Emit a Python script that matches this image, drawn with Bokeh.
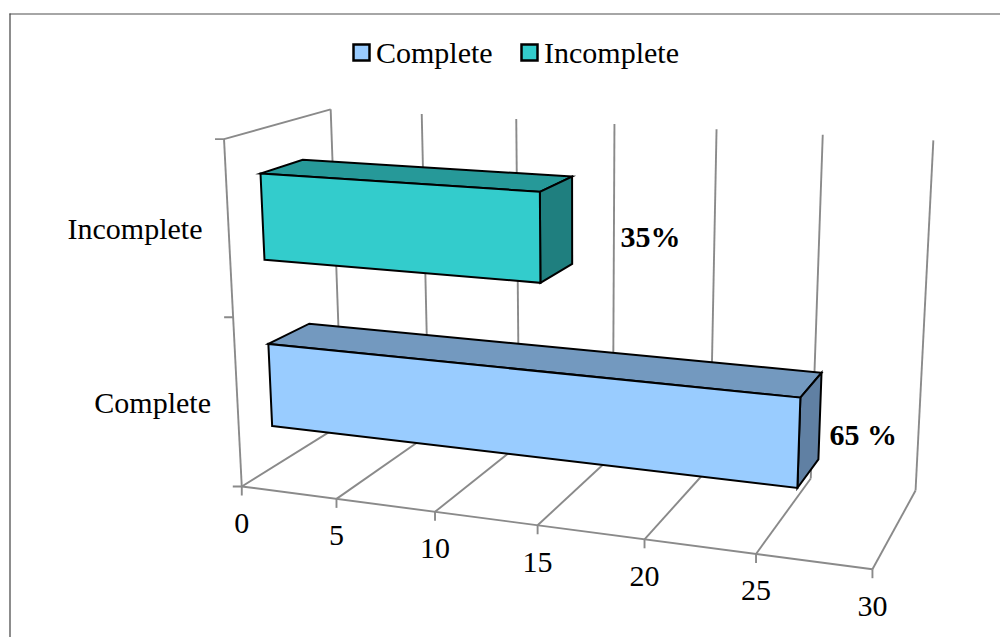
import numpy as np
from bokeh.core.properties import value
from bokeh.embed import file_html
from bokeh.models import Range1d
from bokeh.plotting import figure
from bokeh.resources import INLINE

# Chart content
categories = ["Complete", "Incomplete"]
counts = [26, 14]
percent_labels = ["65 %", "35%"]
x_ticks = [0, 5, 10, 15, 20, 25, 30]
front_colors = ["#99CCFF", "#33CCCC"]
top_colors = ["#7399BF", "#269999"]
side_colors = ["#6080A3", "#1F7F7F"]

X_MAX = 30
FONT = value("Liberation Serif")
TEXT_SIZE = "30px"
TEXT_LIFT = -10
GRID = "#8A8A8A"

# Box corners as (value, depth, height) seen on the page; they fix the 3D camera.
camera_refs = [
    ((0, 0, 0), (241.5, 486)), ((30, 0, 0), (872, 569)),
    ((0, 0, 1), (223, 139)), ((0, 1, 1), (331, 109)),
    ((30, 1, 1), (933, 140)), ((30, 1, 0), (915, 490)),
    ((0, 1, 0), (341, 424)), ((5, 0, 0), (336, 498)),
    ((10, 0, 0), (434.7, 511)), ((15, 0, 0), (537, 525)),
    ((20, 0, 0), (644, 539)), ((25, 0, 0), (755.7, 553)),
    ((5, 1, 1), (421, 113)), ((10, 1, 1), (515.7, 118)),
    ((15, 1, 1), (614, 124)), ((20, 1, 1), (716, 129)),
    ((25, 1, 1), (822, 134)),
]


def fit_camera(refs):
    rows = []
    for (x, d, z), (u, v) in refs:
        w = [x / X_MAX, d, z, 1.0]
        rows.append(w + [0, 0, 0, 0] + [-u * c for c in w])
        rows.append([0, 0, 0, 0] + w + [-v * c for c in w])
    return np.linalg.svd(np.array(rows))[2][-1].reshape(3, 4)


CAMERA = fit_camera(camera_refs)


def project(x, d, z):
    u, v, w = CAMERA @ np.array([x / X_MAX, d, z, 1.0])
    return u / w, v / w


p = figure(width=1000, height=637, output_backend="svg", toolbar_location=None,
           x_range=Range1d(0, 1000), y_range=Range1d(637, 0),
           x_axis_location=None, y_axis_location=None, min_border=0)
p.grid.visible = False
p.outline_line_color = None
p.background_fill_color = "white"
p.border_fill_color = "white"


def segment(a, b, color=GRID, width=1.9):
    p.line([a[0], b[0]], [a[1], b[1]], line_color=color, line_width=width)


def label(xs, ys, texts, align, style="normal"):
    p.text(xs, ys, text=texts, text_font=FONT, text_font_size=TEXT_SIZE, text_font_style=style,
           text_align=align, text_baseline="alphabetic", text_color="black", y_offset=TEXT_LIFT)


# Chart frame
segment((9, 13.5), (1000, 13.5), "#A6A6A6", 2)
segment((9.5, 13), (9.5, 637), "#404040", 1.2)

# Walls, floor and gridlines
for t in x_ticks:
    segment(project(t, 1, 0), project(t, 1, 1))
    segment(project(t, 0, 0), project(t, 1, 0))
    bx, by = project(t, 0, 0)
    segment((bx, by), (bx, by + 9))
    label([bx], [by + 47], [str(t)], "center")
segment(project(0, 0, 0), project(X_MAX, 0, 0))
segment(project(0, 0, 0), project(0, 0, 1))
segment(project(0, 0, 1), project(0, 1, 1))
for frac in (0, 0.5, 1):
    ex, ey = project(0, 0, frac)
    segment((ex - 9, ey), (ex, ey))

# Bars, nearest category lowest
BAR_D = (0.3, 0.7)
BAR_Z = [(0.125, 0.375), (0.625, 0.875)]
for val, (z0, z1), fc, tc, sc in zip(counts, BAR_Z, front_colors, top_colors, side_colors):
    d0, d1 = BAR_D
    faces = [
        (tc, [(0, d0, z1), (val, d0, z1), (val, d1, z1), (0, d1, z1)]),
        (sc, [(val, d0, z0), (val, d1, z0), (val, d1, z1), (val, d0, z1)]),
        (fc, [(0, d0, z0), (val, d0, z0), (val, d0, z1), (0, d0, z1)]),
    ]
    for color, corners in faces:
        pts = [project(*c) for c in corners]
        p.patch([q[0] for q in pts], [q[1] for q in pts], fill_color=color,
                line_color="black", line_width=2, line_join="miter")

# Category labels
label([210.5, 202], [412, 238], categories, "right")

# Percentage labels
label([829, 620], [444, 246], percent_labels, "left", "bold")

# Legend
p.quad(left=[353, 521], right=[369, 537], top=[44, 44], bottom=[60, 60],
       fill_color=front_colors, line_color="black", line_width=2.5, line_join="miter")
label([375.5, 543.5], [62, 62], categories, "left")

open("out.html", "w").write(file_html(p, INLINE))
